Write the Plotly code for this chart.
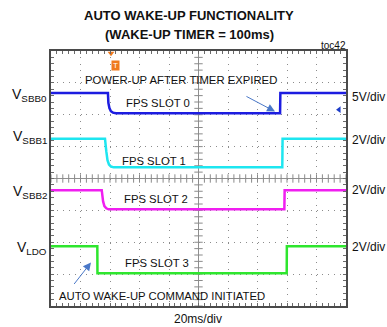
import numpy as np
import plotly.graph_objects as go

# ---- channel data (time in ms, level in volts) ----
sbb0_t = [0, 38.6, 38.9, 39.6, 40.6, 42.0, 44.0, 155.3, 155.5, 200]
sbb0_v = [3.15, 3.15, 1.6, 0.8, 0.3, 0.08, 0.0, 0.0, 3.15, 3.15]

sbb1_t = [0, 36.6, 37.5, 38.3, 39.3, 40.7, 42.5, 156.8, 157.0, 200]
sbb1_v = [1.8, 1.8, 1.0, 0.45, 0.18, 0.05, 0.0, 0.0, 1.8, 1.8]

sbb2_t = [0, 34.4, 35.3, 36.2, 37.5, 39.0, 158.2, 158.4, 200]
sbb2_v = [1.2, 1.2, 0.5, 0.2, 0.06, 0.0, 0.0, 1.2, 1.2]

ldo_t = [0, 31.4, 31.5, 159.8, 159.9, 200]
ldo_v = [1.7, 1.7, 0.0, 0.0, 1.7, 1.7]

# volts per division and ground position (divisions from screen centre)
scales = [5, 2, 2, 2]
grounds = [2.05, 0.35, -0.966, -2.974]
names = ["SBB0", "SBB1", "SBB2", "LDO"]
colors = ["#1c1ce0", "#1ee6f0", "#f01ef0", "#2ee62e"]
scale_labels = ["5V/div", "2V/div", "2V/div", "2V/div"]
slot_labels = ["FPS SLOT 0", "FPS SLOT 1", "FPS SLOT 2", "FPS SLOT 3"]

times = [sbb0_t, sbb1_t, sbb2_t, ldo_t]
levels = [sbb0_v, sbb1_v, sbb2_v, ldo_v]

TIME_SPAN = 200   # 10 div x 20 ms
FONT = "Liberation Sans, Arial, sans-serif"

# plot-area geometry in pixels
L, T, R, B = 51, 51, 346, 306
W_PX, H_PX = 387, 327


def px(x, y):
    return (x - L) / (R - L), (B - y) / (B - T)


fig = go.Figure()

# centre cross ticks
minor_x = np.arange(0, TIME_SPAN + 0.1, 4)
minor_y = np.arange(-4, 4.01, 0.2)
fig.add_trace(go.Scatter(x=minor_x, y=np.zeros_like(minor_x), mode="markers",
                         marker=dict(symbol="line-ns", size=6,
                                     line=dict(color="#8a8a8a", width=1)),
                         hoverinfo="skip", showlegend=False))
fig.add_trace(go.Scatter(x=np.full_like(minor_y, TIME_SPAN / 2), y=minor_y, mode="markers",
                         marker=dict(symbol="line-ew", size=6,
                                     line=dict(color="#8a8a8a", width=1)),
                         hoverinfo="skip", showlegend=False))

for t, v, s, g, c, n in zip(times, levels, scales, grounds, colors, names):
    y = g + np.array(v) / s
    fig.add_trace(go.Scatter(x=t, y=y, mode="lines", name=n,
                             line=dict(color=c, width=2.5),
                             showlegend=False))

# channel 1 ground marker on the right edge
fig.add_trace(go.Scatter(x=[195.3], y=[2.16], mode="markers",
                         marker=dict(symbol="triangle-left", size=6, color="#1c3cc8"),
                         hoverinfo="skip", showlegend=False, cliponaxis=False))

# trigger marker
fig.add_trace(go.Scatter(x=[40.7], y=[3.93], mode="markers",
                         marker=dict(symbol="triangle-down", size=6, color="#f07a1e"),
                         hoverinfo="skip", showlegend=False, cliponaxis=False))

fig.add_shape(type="line", x0=TIME_SPAN / 2, x1=TIME_SPAN / 2, y0=-4, y1=4,
              line=dict(color="#909090", width=1), layer="below")
fig.add_shape(type="line", x0=0, x1=TIME_SPAN, y0=0, y1=0,
              line=dict(color="#909090", width=1), layer="below")

ann = []


def text(x, y, s, size=11.3, xanchor="center", color="#111", bold=False):
    xp, yp = px(x, y)
    ann.append(dict(x=xp, y=yp, xref="paper", yref="paper", text=s, showarrow=False,
                    xanchor=xanchor, yanchor="middle",
                    font=dict(family=FONT, size=size, color=color,
                              weight="bold" if bold else "normal")))


text(189, 15, "AUTO WAKE-UP FUNCTIONALITY", size=13, bold=True)
text(189, 34, "(WAKE-UP TIMER = 100ms)", size=13, bold=True)
text(333, 45, "toc42", size=10)

label_y = [95, 137, 192, 248]
for n, yy in zip(names, label_y):
    text(49, yy, "V<sub>%s</sub>" % n, size=14, xanchor="right")
scale_y = [97, 140, 190, 247]
for s, yy in zip(scale_labels, scale_y):
    text(350, yy, s, size=12, xanchor="left")

slot_pos = [(158, 103), (154, 160.5), (156, 199), (156.5, 262.5)]
for s, (xx, yy) in zip(slot_labels, slot_pos):
    text(xx, yy, s)

text(181, 80, "POWER-UP AFTER TIMER EXPIRED")
text(161.5, 296, "AUTO WAKE-UP COMMAND INITIATED")
text(198, 319, "20ms/div", size=12)

# trigger "T" badge
xp, yp = px(111, 60)
ann.append(dict(x=xp, y=yp, xref="paper", yref="paper", text="T", showarrow=False,
                font=dict(family=FONT, size=8, color="white"),
                bgcolor="#f07a1e", borderpad=0, width=7, height=9))

# arrows
ann.append(dict(x=151.9, y=2.10, xref="x", yref="y", ax=131.5, ay=2.60,
                axref="x", ayref="y", showarrow=True, arrowhead=2, arrowsize=1.6,
                arrowwidth=1, arrowcolor="#4a78c8", text=""))
ann.append(dict(x=27.1, y=-2.635, xref="x", yref="y", ax=14.9, ay=-3.357,
                axref="x", ayref="y", showarrow=True, arrowhead=2, arrowsize=1.6,
                arrowwidth=1, arrowcolor="#4a78c8", text=""))

axis_common = dict(showticklabels=False, zeroline=False, showline=True,
                   linecolor="#4a4a4a", linewidth=2, mirror="ticks",
                   ticks="inside", ticklen=3, tickcolor="#6a6a6a", tickwidth=1,
                   gridcolor="#8c8c8c", gridwidth=1)

fig.update_layout(
    width=W_PX, height=H_PX,
    margin=dict(l=L, r=W_PX - R, t=T, b=H_PX - B),
    paper_bgcolor="white", plot_bgcolor="white",
    xaxis=dict(range=[0, TIME_SPAN], dtick=20, griddash="1px,5.4px",
               minor=dict(dtick=4, ticks="inside", ticklen=3, tickcolor="#6a6a6a",
                          showgrid=False),
               **axis_common),
    yaxis=dict(range=[-4, 4], dtick=1, griddash="1px,4.9px",
               minor=dict(dtick=0.2, ticks="inside", ticklen=3, tickcolor="#6a6a6a",
                          showgrid=False),
               **axis_common),
    annotations=ann,
)

fig.write_html("out.html")
